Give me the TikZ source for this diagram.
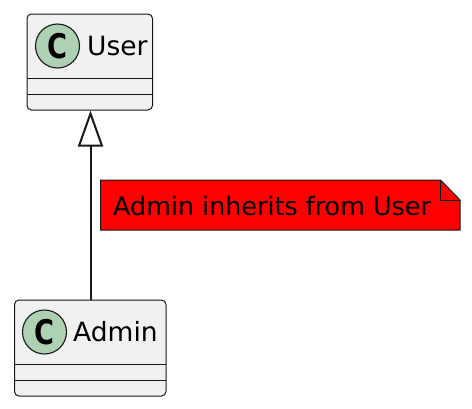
\documentclass[tikz,border=0pt]{standalone}
\usepackage{fontspec}
\usepackage{graphicx}
\setmainfont{DejaVu Sans}
\usetikzlibrary{arrows.meta}
\definecolor{boxfill}{HTML}{F1F1F1}
\definecolor{spotfill}{HTML}{ADD1B2}
\definecolor{edgeink}{HTML}{181818}
\newcommand{\spotletter}{\scalebox{.8}[1]{C}}
\tikzset{
 classbox/.style={draw=edgeink,fill=boxfill,line width=1pt,rounded corners=4.5pt,minimum height=96pt,inner sep=0pt},
 spot/.style={circle,draw=edgeink,fill=spotfill,line width=1.1pt,minimum size=44pt,inner sep=0pt,font=\fontsize{34}{34}\bfseries},
 classname/.style={font=\fontsize{26.5}{26.5}\selectfont,text=black,inner sep=0pt,anchor=base west},
 notename/.style={font=\fontsize{25.4}{25.4}\selectfont,text=black,inner sep=0pt,anchor=base west},
 inherit/.style={draw=edgeink,line width=2pt,{Triangle[open,length=36pt,width=25pt,line width=2pt]}-},
}
\begin{document}
\begin{tikzpicture}[x=1pt,y=-1pt]
 \useasboundingbox (0,0) rectangle (472,408);
 % classes
 \node[classbox,minimum width=125.5pt] (user) at (89.75,62) {};
 \draw[edgeink,line width=1pt] (27,78) -- (152.5,78) (27,94) -- (152.5,94);
 \node[spot] (userspot) at (57.5,46) {\spotletter};
 \node[classname] (username) at (87,55.5) {User};
 \node[classbox,minimum width=151.5pt] (admin) at (90.25,348) {};
 \draw[edgeink,line width=1pt] (14.5,364) -- (166,364) (14.5,380) -- (166,380);
 \node[spot] (adminspot) at (44.5,332) {\spotletter};
 \node[classname] (adminname) at (73,341.5) {Admin};
 \draw[inherit] ([xshift=.75pt]user.south) -- ([xshift=.75pt]user.south |- admin.north);
 % note
 \draw[edgeink,fill=red,line width=1pt] (100.5,180) -- (440.5,180) -- (460,200) -- (460,230) -- (100.5,230) -- cycle;
 \draw[edgeink,line width=1pt] (440.5,180) -- (440.5,200) -- (460,200);
 \node[notename] (notetext) at (113,215) {Admin inherits from User};
\end{tikzpicture}
\end{document}
